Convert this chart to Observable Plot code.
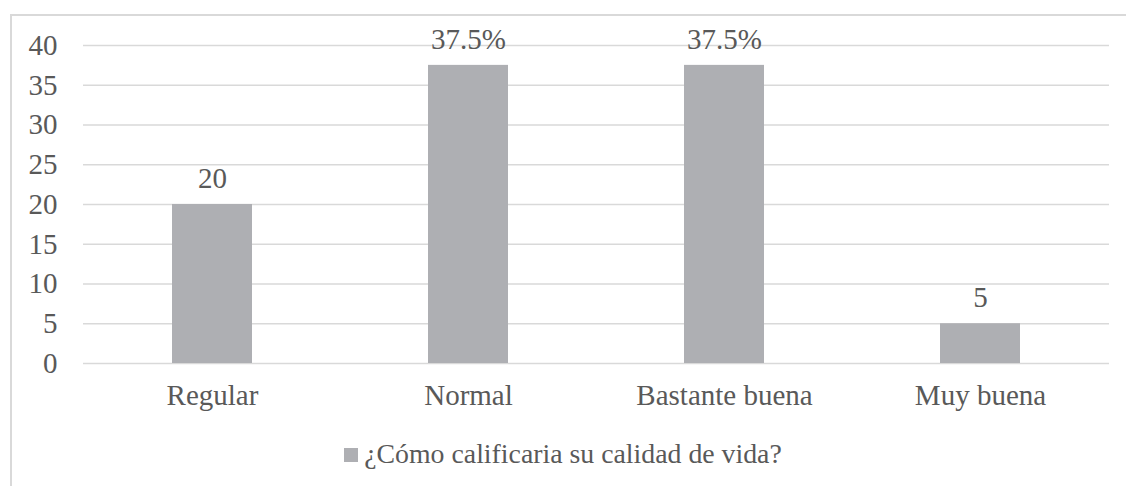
<!DOCTYPE html>
<html>
<head>
<meta charset="utf-8">
<script src="https://cdn.jsdelivr.net/npm/d3@7"></script>
<script src="https://cdn.jsdelivr.net/npm/@observablehq/plot@0.6"></script>
<style>
  html, body { margin: 0; padding: 0; background: #fff; overflow: hidden; width: 1126px; height: 486px; }
  #frame { position: absolute; left: 10px; top: 14px; width: 1300px; height: 700px; border: 2px solid #d9d9d9; box-sizing: border-box; }
  #chart { position: absolute; left: 0; top: 0; }
  #legend { position: absolute; left: 0; top: 438px; width: 1126px; text-align: center; font-family: "Liberation Serif", serif; font-size: 27.8px; color: #595959; }
  #legend .sw { display: inline-block; width: 14px; height: 14px; background: #aeafb3; margin-right: 6px; vertical-align: 1px; }
</style>
</head>
<body>
<div id="frame"></div>
<div id="chart"></div>
<div id="legend"></div>
<script>
const categories = ["Regular", "Normal", "Bastante buena", "Muy buena"];
const values = [20, 37.5, 37.5, 5];
const valueLabels = ["20", "37.5%", "37.5%", "5"];
const yTicks = [0, 5, 10, 15, 20, 25, 30, 35, 40];
const seriesName = "¿Cómo calificaria su calidad de vida?";

const data = categories.map((c, i) => ({ category: c, value: values[i], label: valueLabels[i] }));

const barColor = "#aeafb3";
const textColor = "#595959";
const serif = "'Liberation Serif', serif";
const fs = 29;

const chart = Plot.plot({
  width: 1126,
  height: 420,
  marginTop: 45,
  marginBottom: 57,
  marginLeft: 83,
  marginRight: 17,
  style: { fontFamily: serif, fontSize: fs + "px", color: textColor, background: "transparent" },
  x: { domain: categories, paddingInner: 0.688, paddingOuter: 0.344, label: null },
  y: { domain: [0, 40], label: null },
  marks: [
    Plot.gridY(yTicks, { stroke: "#d9d9d9", strokeOpacity: 1, strokeWidth: 1.6 }),
    Plot.barY(data, { x: "category", y: "value", fill: barColor }),
    Plot.text(data, { x: "category", y: "value", text: "label", dy: -26, fill: textColor, fontSize: fs, fontFamily: serif, lineAnchor: "middle" }),
    Plot.axisY(yTicks, { tickSize: 0, tickPadding: 26, fill: textColor, fontSize: fs, fontFamily: serif, label: null }),
    Plot.axisX({ tickSize: 0, tickPadding: 21, fill: textColor, fontSize: fs, fontFamily: serif, label: null })
  ]
});
document.getElementById("chart").appendChild(chart);

const legend = document.getElementById("legend");
const sw = document.createElement("span");
sw.className = "sw";
legend.appendChild(sw);
legend.appendChild(document.createTextNode(seriesName));
</script>
</body>
</html>
